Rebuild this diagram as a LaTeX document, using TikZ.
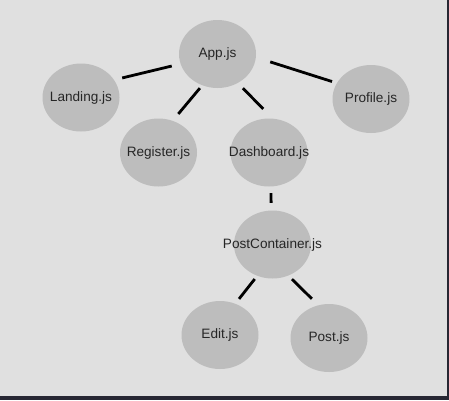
\documentclass[tikz,border=0pt]{standalone}
\usepackage{fontspec}
\setmainfont{Liberation Sans}
\usetikzlibrary{shapes.geometric}
\definecolor{pagegray}{HTML}{E0E0E0}
\definecolor{framedark}{HTML}{272733}
\definecolor{modgray}{HTML}{BDBDBD}
\definecolor{txtgray}{HTML}{262626}
\begin{document}
\begin{tikzpicture}[font=\fontsize{13.6}{16}\selectfont, text=txtgray]
  \tikzstyle{module} = [ellipse, fill=modgray, inner sep=0pt, minimum width=77pt, minimum height=68pt]
  \tikzstyle{link} = [line width=2.8pt, black]

  % page and its dark frame
  \useasboundingbox (0,0) rectangle (449pt,-400pt);
  \fill[framedark] (0,0) rectangle (449pt,-400pt);
  \fill[pagegray] (0,0) rectangle (446.5pt,-396pt);

  \node [module, label=center:App.js] (app) at (217.5pt,-54pt) {};
  \node [module, label=center:Landing.js, left of=app, node distance=136.5pt, yshift=-43.5pt] (landing) {};
  \node [module, label=center:Register.js, below of=app, node distance=98.5pt, xshift=-59pt] (register) {};
  \node [module, label=center:Dashboard.js, below of=app, node distance=98.5pt, xshift=51.5pt] (dash) {};
  \node [module, label=center:Profile.js, right of=app, node distance=153.5pt, yshift=-45pt] (profile) {};
  \node [module, label=center:PostContainer.js, below of=dash, node distance=92pt, xshift=3.5pt] (pc) {};
  \node [module, label=center:Edit.js, below of=pc, node distance=90.5pt, xshift=-52.5pt] (edit) {};
  \node [module, label=center:Post.js, below of=pc, node distance=93.5pt, xshift=56.5pt] (post) {};

  \draw[link, shorten <=9pt, shorten >=8.3pt] (app.195) -- (landing.28);
  \draw[link, shorten <=3.6pt, shorten >=8.8pt] (app.244) -- (register.66.5);
  \draw[link, shorten <=7.2pt, shorten >=13.3pt] (app.305.5) -- (dash.84.6);
  \draw[link, shorten <=14.9pt, shorten >=5pt] (app.355) -- (profile.155.7);
  \draw[link, shorten <=6.5pt, shorten >=7.5pt] (dash.273) -- (pc.92);
  \draw[link, shorten <=4pt, shorten >=6pt] (pc.244.5) -- (edit.64);
  \draw[link, shorten <=5pt, shorten >=9pt] (pc.297.3) -- (post.108);
\end{tikzpicture}
\end{document}
